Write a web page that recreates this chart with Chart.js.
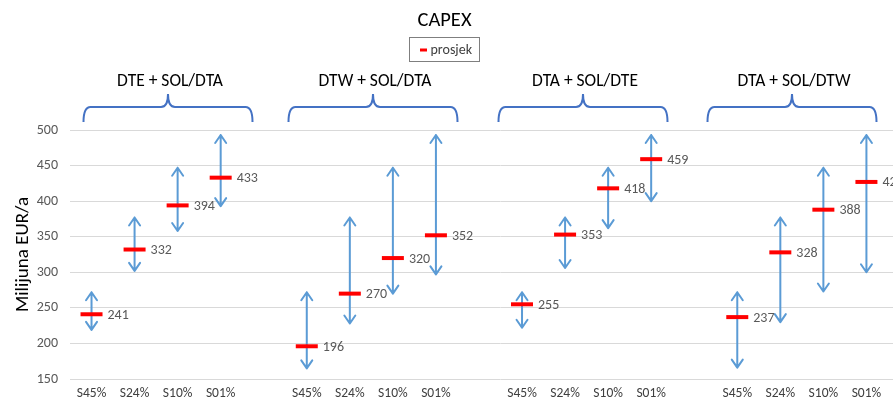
<!DOCTYPE html>
<html>
<head>
<meta charset="utf-8">
<script src="https://cdn.jsdelivr.net/npm/chart.js@4/dist/chart.umd.min.js"></script>
<style>
  html, body { margin: 0; padding: 0; background: #ffffff; overflow: hidden; }
  #wrap { width: 893px; height: 403px; overflow: hidden; position: relative; }
  #chart { position: absolute; left: 0; top: 0; }
</style>
</head>
<body>
<div id="wrap"><canvas id="chart" width="946" height="403"></canvas></div>
<script>
// CAPEX ranges per scenario group (million EUR / year)
const chartTitle = 'CAPEX';
const groups = ['DTE + SOL/DTA', 'DTW + SOL/DTA', 'DTA + SOL/DTE', 'DTA + SOL/DTW'];
const scenarios = ['S45%', 'S24%', 'S10%', 'S01%'];

// average (prosjek) per group, in scenario order
const prosjekDTE = [241, 332, 394, 433];
const prosjekDTW = [196, 270, 320, 352];
const prosjekDTAE = [255, 353, 418, 459];
const prosjekDTAW = [237, 328, 388, 427];

// lower end of each range
const minDTE = [219, 302, 358, 393];
const minDTW = [165, 228, 270, 297];
const minDTAE = [222, 306, 362, 400];
const minDTAW = [166, 230, 273, 300];

// upper end of each range
const maxDTE = [272, 377, 447, 493];
const maxDTW = [272, 377, 447, 493];
const maxDTAE = [272, 377, 447, 493];
const maxDTAW = [272, 377, 447, 493];

const yMin = 150, yMax = 500, yStep = 50;

// Flatten groups into one category axis, with an empty slot after each group
const prosjekByGroup = [prosjekDTE, prosjekDTW, prosjekDTAE, prosjekDTAW];
const minByGroup = [minDTE, minDTW, minDTAE, minDTAW];
const maxByGroup = [maxDTE, maxDTW, maxDTAE, maxDTAW];

const labels = [], means = [], lows = [], highs = [];
groups.forEach((g, gi) => {
  scenarios.forEach((s, si) => {
    labels.push(s);
    means.push(prosjekByGroup[gi][si]);
    lows.push(minByGroup[gi][si]);
    highs.push(maxByGroup[gi][si]);
  });
  labels.push('');
  means.push(null); lows.push(null); highs.push(null);
});

const FONT = "Carlito, Lato, 'Liberation Sans', sans-serif";
Chart.defaults.font.family = FONT;
Chart.defaults.color = '#595959';

const ARROW = '#5B9BD5';
const BRACE = '#4472C4';
const VIEW_WIDTH = 893;

// Double-headed range arrows, drawn under the average markers
const rangeArrows = {
  id: 'rangeArrows',
  beforeDatasetsDraw(chart) {
    const {ctx, scales: {x, y}} = chart;
    ctx.save();
    ctx.strokeStyle = ARROW;
    ctx.lineWidth = 2;
    ctx.lineCap = 'round';
    ctx.lineJoin = 'round';
    for (let i = 0; i < labels.length; i++) {
      if (lows[i] == null) continue;
      const px = x.getPixelForValue(i);
      const yt = y.getPixelForValue(highs[i]);
      const yb = y.getPixelForValue(lows[i]);
      const hw = 5.5, hh = 8;
      ctx.beginPath();
      ctx.moveTo(px, yt); ctx.lineTo(px, yb);
      ctx.moveTo(px - hw, yt + hh); ctx.lineTo(px, yt); ctx.lineTo(px + hw, yt + hh);
      ctx.moveTo(px - hw, yb - hh); ctx.lineTo(px, yb); ctx.lineTo(px + hw, yb - hh);
      ctx.stroke();
    }
    ctx.restore();
  }
};

// Value labels to the right of each average marker
const meanLabels = {
  id: 'meanLabels',
  afterDatasetsDraw(chart) {
    const {ctx} = chart;
    const meta = chart.getDatasetMeta(0);
    ctx.save();
    ctx.font = '14px ' + FONT;
    ctx.fillStyle = '#595959';
    ctx.textAlign = 'left';
    ctx.textBaseline = 'middle';
    meta.data.forEach((pt, i) => {
      if (means[i] == null) return;
      ctx.fillText(String(means[i]), pt.x + 16, pt.y + 1);
    });
    ctx.restore();
  }
};

// Title, boxed legend, group headings and braces above the plot
const headings = {
  id: 'headings',
  afterDraw(chart) {
    const {ctx} = chart;
    const cx = VIEW_WIDTH / 2;
    ctx.save();
    ctx.textBaseline = 'middle';
    ctx.textAlign = 'center';
    ctx.fillStyle = '#000000';
    ctx.font = '20.5px ' + FONT;
    ctx.fillText(chartTitle, cx - 2, 21);

    // legend box
    const lx = 409.5, ly = 37.5, lw = 70, lh = 24;
    ctx.strokeStyle = '#7f7f7f';
    ctx.lineWidth = 1;
    ctx.strokeRect(lx, ly, lw, lh);
    ctx.strokeStyle = '#FF0000';
    ctx.lineWidth = 3;
    ctx.beginPath();
    ctx.moveTo(lx + 10.5, ly + 12.5); ctx.lineTo(lx + 17.5, ly + 12.5);
    ctx.stroke();
    ctx.fillStyle = '#404040';
    ctx.font = '14px ' + FONT;
    ctx.textAlign = 'left';
    ctx.fillText('prosjek', lx + 21, ly + 12.5);

    // braces with group names
    const braceCenters = [168, 373, 583, 792];
    const half = 84.5, yLine = 107, yEnd = 122, yTip = 94, r = 7;
    ctx.strokeStyle = BRACE;
    ctx.lineWidth = 2;
    braceCenters.forEach((bc, gi) => {
      const x0 = bc - half, x1 = bc + half;
      ctx.beginPath();
      ctx.moveTo(x0, yEnd);
      ctx.quadraticCurveTo(x0, yLine, x0 + r, yLine);
      ctx.lineTo(bc - r, yLine);
      ctx.quadraticCurveTo(bc, yLine, bc, yTip);
      ctx.quadraticCurveTo(bc, yLine, bc + r, yLine);
      ctx.lineTo(x1 - r, yLine);
      ctx.quadraticCurveTo(x1, yLine, x1, yEnd);
      ctx.stroke();

      ctx.fillStyle = '#000000';
      ctx.font = '17.5px ' + FONT;
      ctx.textAlign = 'center';
      ctx.fillText(groups[gi], bc + 2, 82);
    });
    ctx.restore();
  }
};

new Chart(document.getElementById('chart'), {
  data: {
    labels: labels,
    datasets: [{
      type: 'line',
      label: 'prosjek',
      data: means,
      showLine: false,
      pointStyle: 'line',
      pointRadius: 11,
      pointHoverRadius: 11,
      pointBorderWidth: 4,
      pointHoverBorderWidth: 4,
      borderColor: '#FF0000',
      backgroundColor: '#FF0000'
    }]
  },
  options: {
    responsive: false,
    animation: false,
    events: [],
    layout: { padding: { top: 130, right: 0, bottom: 0, left: 0 } },
    plugins: {
      legend: { display: false },
      title: { display: false },
      tooltip: { enabled: false }
    },
    scales: {
      x: {
        type: 'category',
        offset: true,
        grid: { display: false, drawTicks: false },
        border: { display: false },
        ticks: { padding: 7, font: { size: 13.5 }, color: '#404040', maxRotation: 0, autoSkip: false },
        afterFit(scale) { scale.height = 24; }
      },
      y: {
        min: yMin,
        max: yMax,
        grid: { color: '#D9D9D9', lineWidth: 1, drawTicks: false },
        border: { display: false },
        ticks: { stepSize: yStep, padding: 12, font: { size: 14 }, color: '#595959' },
        title: {
          display: true,
          text: 'Milijuna EUR/a',
          color: '#000000',
          font: { size: 19 },
          padding: { top: 12, bottom: 0 }
        },
        afterFit(scale) { scale.width = 70; }
      }
    }
  },
  plugins: [rangeArrows, meanLabels, headings]
});
</script>
</body>
</html>
